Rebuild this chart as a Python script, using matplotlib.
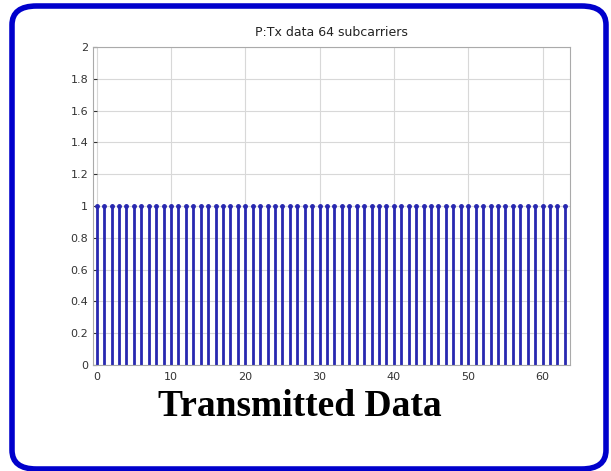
import numpy as np
import matplotlib.pyplot as plt
from matplotlib.patches import FancyBboxPatch

# datos: 64 subportadoras, todas con valor 1
subcarriers = np.arange(64)
tx_data = [1] * 64
yticks = [0, 0.2, 0.4, 0.6, 0.8, 1, 1.2, 1.4, 1.6, 1.8, 2]
xticks = [0, 10, 20, 30, 40, 50, 60]

W, H = 611, 471
fig = plt.figure(figsize=(W / 100, H / 100), dpi=100)

# marco azul redondeado
frame = FancyBboxPatch((12 / W, 1 - 469 / H), 594 / W, 463 / H,
                       boxstyle="round,pad=0,rounding_size=0.04",
                       transform=fig.transFigure, fill=False,
                       edgecolor="#0000cc", linewidth=4, zorder=0)
fig.patches.append(frame)

ax = fig.add_axes([93 / W, 1 - 365 / H, (570 - 93) / W, (365 - 47) / H])
markerline, stemlines, baseline = ax.stem(subcarriers, tx_data, basefmt=" ")
plt.setp(stemlines, color="#2828b0", linewidth=2)
plt.setp(markerline, color="#2828b0", markersize=2.5)

ax.set_xlim(-0.5, 63.7)
ax.set_ylim(0, 2)
ax.set_xticks(xticks)
ax.set_yticks(yticks)
ax.set_yticklabels([f"{v:g}" for v in yticks])
ax.grid(True, color="#d8d8d8", linewidth=0.8)
ax.set_axisbelow(True)
ax.tick_params(labelsize=8, colors="#333333", length=3, direction="in")
ax.tick_params(axis="x", pad=5)
for s in ax.spines.values():
    s.set_color("#aaaaaa")

ax.set_title("P:Tx data 64 subcarriers", fontsize=9, color="#222222", pad=8)

fig.text(300 / W, 1 - 407 / H, "Transmitted Data", fontsize=27, fontweight="bold",
         family="Liberation Serif", ha="center", va="center")

fig.savefig("out.png", dpi=100)
